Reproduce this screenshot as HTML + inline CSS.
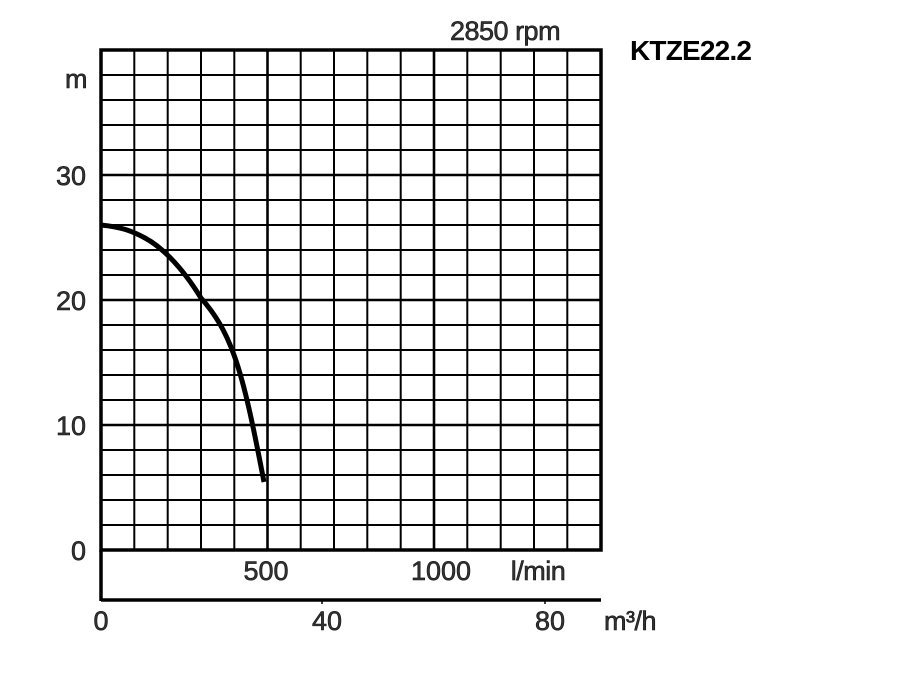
<!DOCTYPE html>
<html><head><meta charset="utf-8"><style>
html,body{margin:0;padding:0;background:#fff;width:900px;height:700px;overflow:hidden}
text{font-family:"Liberation Sans",sans-serif;fill:#333;stroke:#111;stroke-width:0.6}
</style></head><body>
<svg width="900" height="700" xmlns="http://www.w3.org/2000/svg">
<g stroke="#000" stroke-width="2" fill="none">
<line x1="134.3" y1="50" x2="134.3" y2="550"/><line x1="167.7" y1="50" x2="167.7" y2="550"/>
<line x1="201" y1="50" x2="201" y2="550"/><line x1="234.3" y1="50" x2="234.3" y2="550"/>
<line x1="300.7" y1="50" x2="300.7" y2="550"/><line x1="334" y1="50" x2="334" y2="550"/>
<line x1="367.3" y1="50" x2="367.3" y2="550"/><line x1="400.7" y1="50" x2="400.7" y2="550"/>
<line x1="467.3" y1="50" x2="467.3" y2="550"/><line x1="500.7" y1="50" x2="500.7" y2="550"/>
<line x1="534" y1="50" x2="534" y2="550"/><line x1="567.3" y1="50" x2="567.3" y2="550"/>
<line x1="101" y1="75" x2="601" y2="75"/><line x1="101" y1="100" x2="601" y2="100"/>
<line x1="101" y1="125" x2="601" y2="125"/><line x1="101" y1="150" x2="601" y2="150"/>
<line x1="101" y1="200" x2="601" y2="200"/><line x1="101" y1="225" x2="601" y2="225"/>
<line x1="101" y1="250" x2="601" y2="250"/><line x1="101" y1="275" x2="601" y2="275"/>
<line x1="101" y1="325" x2="601" y2="325"/><line x1="101" y1="350" x2="601" y2="350"/>
<line x1="101" y1="375" x2="601" y2="375"/><line x1="101" y1="400" x2="601" y2="400"/>
<line x1="101" y1="450" x2="601" y2="450"/><line x1="101" y1="475" x2="601" y2="475"/>
<line x1="101" y1="500" x2="601" y2="500"/><line x1="101" y1="525" x2="601" y2="525"/>
</g>
<g stroke="#000" stroke-width="2.6" fill="none">
<line x1="267.5" y1="50" x2="267.5" y2="550"/><line x1="434" y1="50" x2="434" y2="550"/>
<line x1="101" y1="175" x2="601" y2="175"/><line x1="101" y1="300" x2="601" y2="300"/>
<line x1="101" y1="425" x2="601" y2="425"/>
</g>
<g stroke="#000" stroke-width="3.5" fill="none">
<rect x="101" y="50" width="500" height="500"/>
<line x1="101" y1="550" x2="101" y2="601"/>
<line x1="101" y1="600" x2="601" y2="600"/>
<line x1="322" y1="600" x2="322" y2="604" stroke-width="1.5"/>
<line x1="545" y1="600" x2="545" y2="604" stroke-width="1.5"/>
</g>
<path d="M101,225 C120,227 130,230 145,238 C160,246 180,264 201,298 C215,314 225,330 234,355 C245,385 254,430 264,482" stroke="#000" stroke-width="5" fill="none"/>
<g font-size="27">
<text x="450" y="40" letter-spacing="-0.5">2850 rpm</text>
<text x="630" y="60" font-size="28" letter-spacing="-0.8" style="font-weight:bold;fill:#000;stroke:none">KTZE22.2</text>
<text x="65" y="88">m</text>
<text x="86" y="185" text-anchor="end">30</text>
<text x="86" y="310" text-anchor="end">20</text>
<text x="86" y="435" text-anchor="end">10</text>
<text x="86" y="560" text-anchor="end">0</text>
<text x="266" y="580" text-anchor="middle">500</text>
<text x="441" y="580" text-anchor="middle">1000</text>
<text x="538" y="580" text-anchor="middle" letter-spacing="-0.5">l/min</text>
<text x="101" y="630" text-anchor="middle">0</text>
<text x="327" y="630" text-anchor="middle">40</text>
<text x="550" y="630" text-anchor="middle">80</text>
<text x="604" y="630" letter-spacing="-0.5">m³/h</text>
</g>
</svg>
</body></html>
